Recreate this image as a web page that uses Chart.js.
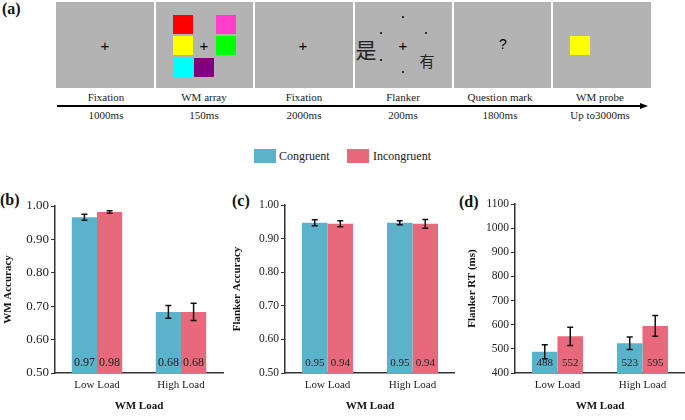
<!DOCTYPE html>
<html><head><meta charset="utf-8">
<script src="https://cdn.jsdelivr.net/npm/chart.js@4.4.0/dist/chart.umd.min.js"></script>
<style>
body{margin:0;background:#fff;width:685px;height:420px;overflow:hidden;position:relative;font-family:"Liberation Serif","Times New Roman",serif;color:#222;}
.box{position:absolute;top:2px;height:86px;background:#b3b3b3;}
.sq{position:absolute;width:20px;height:19px;}
.lbl{position:absolute;font-size:11px;transform:translateX(-50%);white-space:nowrap;line-height:12px;}
.plus{position:absolute;font:15px "Liberation Sans",sans-serif;transform:translate(-50%,-50%);line-height:1;color:#000;}
.dot{position:absolute;width:2px;height:2px;background:#000;border-radius:1px;}
.pl{position:absolute;font-weight:bold;font-size:16px;line-height:16px;color:#111;}
.cjk{position:absolute;font-family:"Noto Sans CJK SC";transform:translate(-50%,-50%);line-height:1;color:#222;}
.sw{position:absolute;width:22px;height:14px;}
.lg{position:absolute;font-size:12px;line-height:14px;}
canvas{position:absolute;}
</style></head><body>
<div class="pl" style="left:2px;top:1px">(a)</div>
<div class="box" style="left:56px;width:98px"></div>
<div class="box" style="left:156px;width:97px"></div>
<div class="box" style="left:255px;width:98px"></div>
<div class="box" style="left:355px;width:97px"></div>
<div class="box" style="left:454px;width:97px"></div>
<div class="box" style="left:553px;width:98px"></div>
<div class="plus" style="left:105px;top:45px">+</div>
<div class="plus" style="left:204px;top:45px">+</div>
<div class="plus" style="left:303px;top:45px">+</div>
<div class="plus" style="left:403px;top:45px">+</div>
<div class="plus" style="left:503px;top:44px;font-size:14px">?</div>
<div class="sq" style="left:173px;top:15px;background:#ff0000"></div>
<div class="sq" style="left:216px;top:15px;background:#ff3fcc"></div>
<div class="sq" style="left:173px;top:36px;background:#ffff00"></div>
<div class="sq" style="left:216px;top:36px;background:#00ff00"></div>
<div class="sq" style="left:173px;top:58px;background:#00ffff"></div>
<div class="sq" style="left:194px;top:58px;background:#800080"></div>
<div class="sq" style="left:570px;top:36px;background:#ffff00"></div>
<div class="dot" style="left:402px;top:16px"></div>
<div class="dot" style="left:380px;top:32px"></div>
<div class="dot" style="left:425px;top:32px"></div>
<div class="dot" style="left:380px;top:59px"></div>
<div class="dot" style="left:402px;top:71px"></div>
<div class="cjk" style="left:366px;top:49px;font-size:21px">是</div>
<div class="cjk" style="left:427px;top:60px;font-size:15px">有</div>
<div class="lbl" style="left:106px;top:91px">Fixation</div>
<div class="lbl" style="left:204px;top:91px">WM array</div>
<div class="lbl" style="left:304px;top:91px">Fixation</div>
<div class="lbl" style="left:403px;top:91px">Flanker</div>
<div class="lbl" style="left:500px;top:91px">Question mark</div>
<div class="lbl" style="left:600px;top:91px">WM probe</div>
<div style="position:absolute;left:57px;top:105px;width:584px;height:1.5px;background:#000"></div>
<div style="position:absolute;left:640px;top:102.5px;width:0;height:0;border-left:8px solid #000;border-top:3.5px solid transparent;border-bottom:3.5px solid transparent"></div>
<div class="lbl" style="left:106px;top:109px">1000ms</div>
<div class="lbl" style="left:204px;top:109px">150ms</div>
<div class="lbl" style="left:304px;top:109px">2000ms</div>
<div class="lbl" style="left:403px;top:109px">200ms</div>
<div class="lbl" style="left:500px;top:109px">1800ms</div>
<div class="lbl" style="left:600px;top:109px">Up to3000ms</div>

<div class="sw" style="left:254px;top:149px;background:#5bb3cb"></div>
<div class="lg" style="left:279px;top:149px">Congruent</div>
<div class="sw" style="left:347px;top:149px;background:#e8697b"></div>
<div class="lg" style="left:373px;top:149px">Incongruent</div>

<div class="pl" style="left:0px;top:192px">(b)</div>
<div class="pl" style="left:232px;top:193px">(c)</div>
<div class="pl" style="left:459px;top:194px">(d)</div>

<canvas id="cb" width="230" height="240" style="left:0;top:180px"></canvas>
<canvas id="cc" width="230" height="240" style="left:225px;top:180px"></canvas>
<canvas id="cd" width="230" height="240" style="left:455px;top:180px"></canvas>

<script>
const categories = ['Low Load', 'High Load'];
const seriesNames = ['Congruent', 'Incongruent'];

const wmAccCong = [0.966, 0.683];
const wmAccIncong = [0.982, 0.683];
const wmAccCongErr = [0.009, 0.019];
const wmAccIncongErr = [0.004, 0.026];

const flAccCong = [0.947, 0.947];
const flAccIncong = [0.944, 0.944];
const flAccCongErr = [0.009, 0.006];
const flAccIncongErr = [0.009, 0.013];

const rtCong = [488, 523];
const rtIncong = [552, 595];
const rtCongErr = [29, 26];
const rtIncongErr = [38, 43];

const accTicks = [0.5, 0.6, 0.7, 0.8, 0.9, 1.0];
const rtTicks = [400, 500, 600, 700, 800, 900, 1000, 1100];

const BLUE = '#5bb3cb', PINK = '#e8697b';
const SERIF = '"Liberation Serif", "Times New Roman", serif';

const errorBars = {
  id: 'errorBars',
  afterDatasetsDraw(chart, args, opts) {
    const ctx = chart.ctx, y = chart.scales.y;
    chart.data.datasets.forEach((ds, i) => {
      const meta = chart.getDatasetMeta(i);
      meta.data.forEach((bar, j) => {
        const v = ds.data[j], e = ds.errors[j];
        const x = bar.x;
        const yt = y.getPixelForValue(v + e), yb = y.getPixelForValue(v - e);
        ctx.save();
        ctx.strokeStyle = '#111'; ctx.lineWidth = 1.5;
        ctx.beginPath();
        ctx.moveTo(x, yt); ctx.lineTo(x, yb);
        ctx.moveTo(x - 3, yt); ctx.lineTo(x + 3, yt);
        ctx.moveTo(x - 3, yb); ctx.lineTo(x + 3, yb);
        ctx.stroke();
        ctx.fillStyle = '#222';
        ctx.font = opts.labelSize + 'px ' + SERIF;
        ctx.textAlign = 'center'; ctx.textBaseline = 'middle';
        ctx.fillText(opts.fmt(v), x, y.bottom - 10);
        ctx.restore();
      });
    });
  }
};

function makeChart(id, cong, incong, congErr, incongErr, ticks, yTitle, cfg) {
  return new Chart(document.getElementById(id), {
    type: 'bar',
    data: {
      labels: categories,
      datasets: [
        {label: seriesNames[0], data: cong, errors: congErr, backgroundColor: BLUE, borderWidth: 0},
        {label: seriesNames[1], data: incong, errors: incongErr, backgroundColor: PINK, borderWidth: 0}
      ]
    },
    plugins: [errorBars],
    options: {
      responsive: false, animation: false,
      layout: {padding: {left: 0, top: cfg.top, right: cfg.right, bottom: 0}},
      datasets: {bar: {categoryPercentage: 0.6, barPercentage: 1.0}},
      plugins: {legend: {display: false}, tooltip: {enabled: false}, title: {display: false},
        errorBars: {fmt: cfg.fmt, labelSize: cfg.labelSize}},
      scales: {
        x: {
          z: 1,
          grid: {display: false, drawTicks: false},
          border: {display: true, color: '#333', width: 1.5},
          ticks: {font: {family: SERIF, size: 11}, color: '#222', padding: 6},
          title: {display: true, text: 'WM Load', font: {family: SERIF, size: 11, weight: 'bold'}, color: '#111', padding: {top: 0, bottom: 7}},
          afterFit: s => { s.height = 47; }
        },
        y: {
          z: 1,
          min: ticks[0], max: ticks[ticks.length - 1],
          afterBuildTicks: s => { s.ticks = ticks.map(v => ({value: v})); },
          grid: {display: true, drawOnChartArea: false, drawTicks: true, tickLength: 4, color: '#333', lineWidth: 1},
          border: {display: true, color: '#333', width: 1.5},
          ticks: {font: {family: SERIF, size: cfg.tickSize}, color: '#222', padding: 2, callback: cfg.tickFmt},
          title: {display: true, text: yTitle, font: {family: SERIF, size: 11, weight: 'bold'}, color: '#111', padding: {top: cfg.titlePad, bottom: 0}},
          afterFit: s => { s.width = cfg.yWidth; }
        }
      }
    }
  });
}

const f2 = v => Number(v).toFixed(2);
const f0 = v => String(Math.round(v));

makeChart('cb', wmAccCong, wmAccIncong, wmAccCongErr, wmAccIncongErr, accTicks, 'WM Accuracy',
  {top: 26, right: 7, yWidth: 55, titlePad: 1.4, tickSize: 13, labelSize: 12, fmt: f2, tickFmt: f2});
makeChart('cc', flAccCong, flAccIncong, flAccCongErr, flAccIncongErr, accTicks, 'Flanker Accuracy',
  {top: 25, right: 0, yWidth: 60, titlePad: 5.4, tickSize: 11.5, labelSize: 11, fmt: f2, tickFmt: f2});
makeChart('cd', rtCong, rtIncong, rtCongErr, rtIncongErr, rtTicks, 'Flanker RT (ms)',
  {top: 24, right: 0, yWidth: 60, titlePad: 10.4, tickSize: 11.5, labelSize: 11, fmt: f0, tickFmt: f0});
</script>
</body></html>
